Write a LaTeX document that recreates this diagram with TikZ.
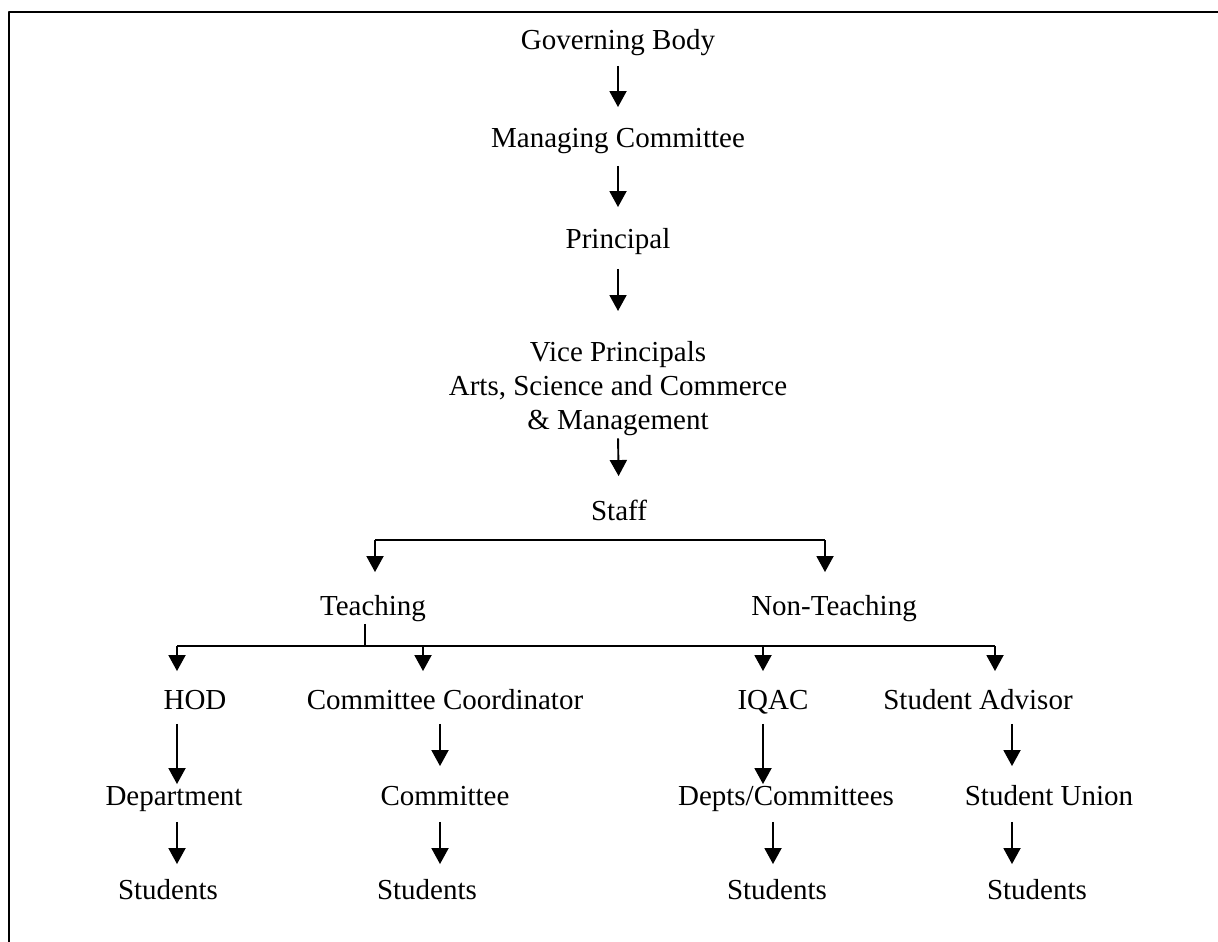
\documentclass[tikz,border=0pt]{standalone}
\usepackage{fontspec}
\setmainfont{Liberation Serif}
\usetikzlibrary{arrows.meta}
\tikzset{
  txt/.style={inner sep=0pt, font=\fontsize{29}{34}\selectfont},
  lbl/.style={txt, anchor=base, text height=19pt, text depth=6pt},
  arr/.style={-{Triangle[length=16pt,width=17pt]}, shorten <=9pt, shorten >=20pt},
}
\begin{document}
\begin{tikzpicture}[x=1pt, y=-1pt, line width=1.9pt, line join=round]
\useasboundingbox (0,0) rectangle (1218,942);
\draw[line width=2.4pt] (9,942) -- (9,12) -- (1218,12);

% top of the chart
\node[lbl] (gb) at (618,50) {Governing Body};
\node[lbl] (mc) at (618,147) {Managing Committee};
\node[lbl] (pr) at (618,248) {Principal};
\node[txt, anchor=north, align=center] (vp) at (618,340) {Vice Principals\\Arts, Science and Commerce\\\& Management};
\node[lbl] (st) at (619,520) {Staff};
\draw[arr] (gb.south) -- (mc.north);
\draw[arr, shorten <=12pt, shorten >=21pt] (mc.south) -- (pr.north);
\draw[arr, shorten <=14pt, shorten >=29pt] (pr.south) -- (vp.north);
\draw[arr, shorten <=2pt, shorten >=24pt] (vp.south) -- (st.north);

% staff
\node[lbl] (teach) at (373,615) {Teaching};
\node[lbl] (nont) at (834,615) {Non-Teaching};
\coordinate (sl) at (375,540);
\coordinate (sr) at (825,540);
\draw (sl) -- (sr);
\draw[arr, shorten <=0pt, shorten >=23pt] (sl) -- (teach.north -| sl);
\draw[arr, shorten <=0pt, shorten >=23pt] (sr) -- (nont.north -| sr);

% rows
\node[lbl] (hod) at (195,709) {HOD};
\node[lbl] (cc) at (445,709) {Committee Coordinator};
\node[lbl] (iqac) at (773,709) {IQAC};
\node[lbl] (sa) at (978,709) {Student Advisor};
\node[lbl] (dep) at (174,805) {Department};
\node[lbl] (com) at (445,805) {Committee};
\node[lbl] (dc) at (786,805) {Depts/Committees};
\node[lbl] (su) at (1049,805) {Student Union};
\node[lbl] (s1) at (168,899) {Students};
\node[lbl] (s2) at (427,899) {Students};
\node[lbl] (s3) at (777,899) {Students};
\node[lbl] (s4) at (1037,899) {Students};

\coordinate (tb) at (365,646);
\draw[shorten <=2pt] (teach.south -| tb) -- (tb);
\draw (177,646) -- (995,646);
\foreach \n/\x in {hod/177, cc/423, iqac/763, sa/995}
  \draw[arr, shorten <=0pt, shorten >=18pt] (\x,646) -- (\n.north -| \x,0);
\foreach \a/\b/\x/\s in {hod/dep/177/1pt, cc/com/440/19pt, iqac/dc/763/1pt, sa/su/1012/19pt}
  \draw[arr, shorten <=8pt, shorten >=\s] (\a.south -| \x,0) -- (\b.north -| \x,0);
\foreach \a/\b/\x in {dep/s1/177, com/s2/440, dc/s3/773, su/s4/1012}
  \draw[arr, shorten <=10pt, shorten >=15pt] (\a.south -| \x,0) -- (\b.north -| \x,0);
\end{tikzpicture}
\end{document}
